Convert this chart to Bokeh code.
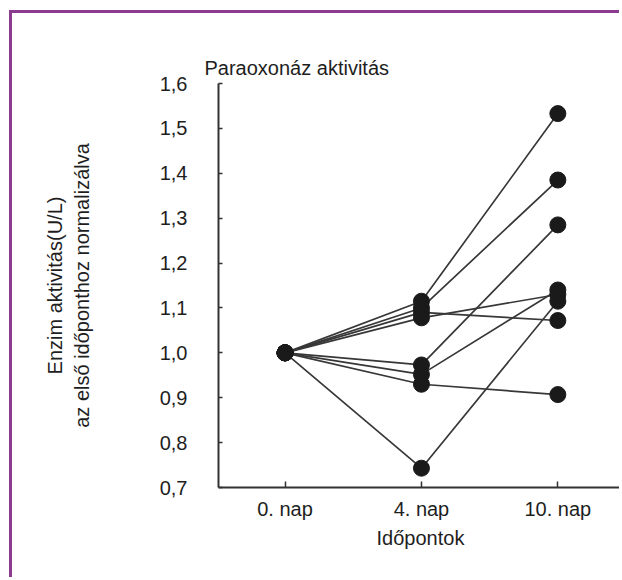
from bokeh.plotting import figure
from bokeh.models import FixedTicker, Range1d, Title
from bokeh.embed import file_html
from bokeh.resources import INLINE

# ---- data ----
days = ["0. nap", "4. nap", "10. nap"]
day_pos = [0, 1, 2]
day0 = [1.0, 1.0, 1.0, 1.0, 1.0, 1.0, 1.0, 1.0]
day4 = [1.115, 1.10, 1.09, 1.078, 0.973, 0.952, 0.930, 0.743]
day10 = [1.533, 1.385, 1.072, 1.13, 1.285, 1.14, 0.907, 1.115]
y_ticks = [0.7, 0.8, 0.9, 1.0, 1.1, 1.2, 1.3, 1.4, 1.5, 1.6]
y_tick_labels = ["0,7", "0,8", "0,9", "1,0", "1,1", "1,2", "1,3", "1,4", "1,5", "1,6"]

FONT = "Liberation Sans"
TXT = "#1e1e1e"
PURPLE = "#8B3C8F"

p = figure(width=610, height=567, output_backend="svg", toolbar_location=None,
           x_range=Range1d(-0.488, 2.474), y_range=Range1d(0.7, 1.6),
           min_border_left=206, min_border_right=0, min_border_top=70,
           min_border_bottom=93, background_fill_color="white",
           border_fill_color="white")
p.styles = {"margin-top": "10px", "margin-left": "9px",
            "border-top": f"3px solid {PURPLE}",
            "border-left": f"3px solid {PURPLE}"}
p.outline_line_color = None
p.grid.visible = False

p.add_layout(Title(text="Paraoxonáz aktivitás", align="left", offset=-14,
                   text_font=FONT, text_font_size="20px", text_font_style="normal",
                   text_color=TXT, standoff=10), "above")

# lines per subject
xs = [day_pos for _ in day0]
ys = [[a, b, c] for a, b, c in zip(day0, day4, day10)]
p.multi_line(xs, ys, line_color="#383838", line_width=1.7)

# markers
all_x = [0] * len(day0) + [1] * len(day4) + [2] * len(day10)
all_y = day0 + day4 + day10
p.scatter(all_x, all_y, size=16, fill_color="#1a1a1a", line_color="#1a1a1a")

# axes
for ax in (p.xaxis[0], p.yaxis[0]):
    ax.axis_line_color = "#333333"
    ax.axis_line_width = 2
    ax.major_tick_line_color = "#333333"
    ax.major_tick_line_width = 1.5
    ax.minor_tick_line_color = None
    ax.major_tick_out = 0
    ax.major_label_text_font = FONT
    ax.major_label_text_font_size = "20px"
    ax.major_label_text_color = TXT
    ax.axis_label_text_font = FONT
    ax.axis_label_text_font_size = "20px"
    ax.axis_label_text_font_style = "normal"
    ax.axis_label_text_color = TXT

p.xaxis.ticker = FixedTicker(ticks=day_pos)
p.xaxis.major_label_overrides = {k: v for k, v in zip(day_pos, days)}
p.xaxis.major_tick_in = 6
p.xaxis.major_label_standoff = 10
p.xaxis.axis_label = "Időpontok"
p.xaxis.axis_label_standoff = 4

p.yaxis.ticker = FixedTicker(ticks=y_ticks)
p.yaxis.major_label_overrides = {k: v for k, v in zip(y_ticks, y_tick_labels)}
p.yaxis.major_tick_in = 4
p.yaxis.major_label_standoff = 31
p.yaxis.axis_label = "Enzim aktivitás(U/L)\naz első időponthoz normalizálva"
p.yaxis.axis_label_standoff = 64

open("out.html", "w").write(file_html(p, INLINE))
